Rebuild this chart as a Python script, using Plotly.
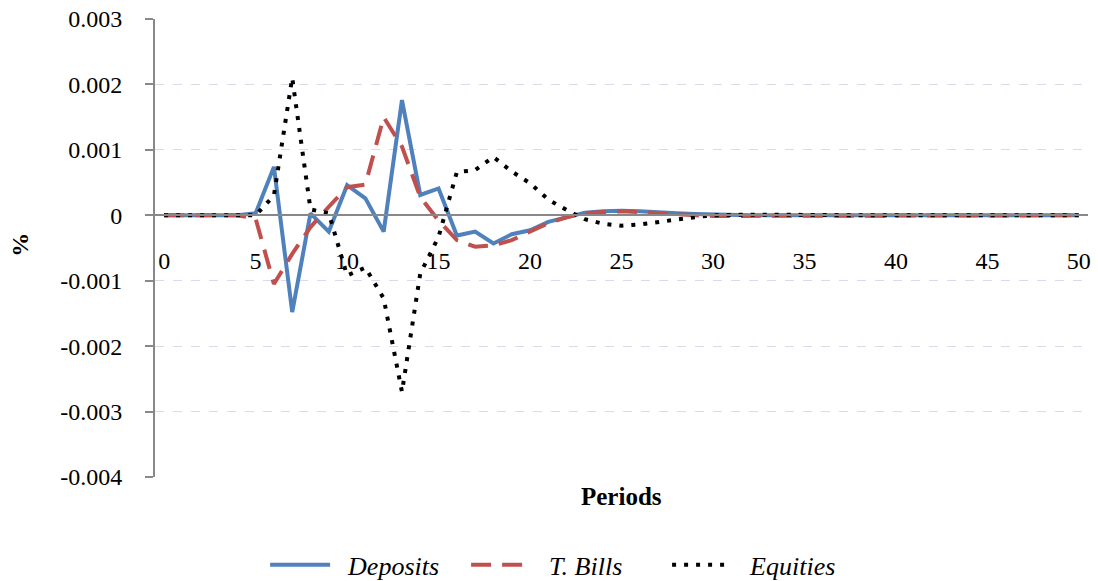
import plotly.graph_objects as go

# -----------------------------------------------------------------------------
# Données (réponses en %, périodes 0..50)
# -----------------------------------------------------------------------------
periods = list(range(51))

deposits = [
    0, 0, 0, 0, 0, 0.00003, 0.00074, -0.00148, 0.00003, -0.00025,
    0.00046, 0.00026, -0.00025, 0.00176, 0.00031, 0.00041, -0.00031, -0.00025, -0.00043, -0.00029,
    -0.00023, -0.00010, -0.00003, 0.00004, 0.00006, 0.00007, 0.00006, 0.00004, 0.00003, 0.00002,
    0.00001, 0.000005, 0, 0, 0, 0, 0, 0, 0, 0,
    0, 0, 0, 0, 0, 0, 0, 0, 0, 0, 0,
]

tbills = [
    0, 0, 0, 0, 0, -0.00005, -0.00105, -0.00059, -0.00018, 0.00013,
    0.00043, 0.00047, 0.00150, 0.00105, 0.00028, -0.00008, -0.00038, -0.00048, -0.00046, -0.00038,
    -0.00025, -0.00012, -0.00003, 0.00003, 0.00005, 0.00006, 0.00005, 0.00003, 0.00001, 0,
    -0.00001, -0.00001, -0.00001, -0.000005, 0, 0, 0, 0, 0, 0,
    0, 0, 0, 0, 0, 0, 0, 0, 0, 0, 0,
]

equities = [
    0, 0, 0, 0, 0, 0, 0.00030, 0.00210, 0.00009, 0.00003,
    -0.00092, -0.00080, -0.00127, -0.00270, -0.00089, -0.00033, 0.00066, 0.00069, 0.00089, 0.00067,
    0.00049, 0.00024, 0.00008, -0.00006, -0.00013, -0.00016, -0.00014, -0.00010, -0.00006, -0.00003,
    0, 0.00001, 0.00001, 0.00001, 0.000005, 0, 0, 0, 0, 0,
    0, 0, 0, 0, 0, 0, 0, 0, 0, 0, 0,
]

series_names = ["Deposits", "T. Bills", "Equities"]
y_ticks = [-0.004, -0.003, -0.002, -0.001, 0, 0.001, 0.002, 0.003]
y_labels = ["-0.004", "-0.003", "-0.002", "-0.001", "0", "0.001", "0.002", "0.003"]
x_ticks = list(range(0, 51, 5))

SERIF = "Liberation Serif, Times New Roman, serif"
PAD = "\u00a0\u00a0"  # petit espace entre le trait et le texte de la légende

fig = go.Figure()
fig.add_trace(go.Scatter(
    x=periods, y=deposits, name=PAD + series_names[0], mode="lines",
    line=dict(color="#4F81BD", width=4),
))
fig.add_trace(go.Scatter(
    x=periods, y=tbills, name=PAD + series_names[1], mode="lines",
    line=dict(color="#C0504D", width=4, dash="20px,11px"),
))
fig.add_trace(go.Scatter(
    x=periods, y=equities, name=PAD + series_names[2], mode="lines",
    line=dict(color="#000000", width=4, dash="4px,8px"),
))

fig.update_layout(
    width=1098,
    height=581,
    margin=dict(l=155, r=10, t=19, b=104, autoexpand=False),
    paper_bgcolor="white",
    plot_bgcolor="white",
    font=dict(family=SERIF, size=20, color="black"),
    showlegend=True,
    legend=dict(
        orientation="h",
        x=0.118, xanchor="left",
        y=-0.192, yanchor="middle",
        font=dict(family=SERIF, size=26, style="italic"),
        itemwidth=60,
        entrywidth=126,
        tracegroupgap=0,
    ),
    xaxis=dict(
        range=[-0.5, 50.5],
        anchor="free",
        position=4 / 7,
        tickvals=x_ticks,
        ticks="",
        ticklabelstandoff=24,
        ticklabeloverflow="allow",
        automargin=False,
        showgrid=False,
        zeroline=False,
        showline=True,
        linecolor="#888888",
        linewidth=2,
        tickfont=dict(size=24),
    ),
    yaxis=dict(
        range=[-0.004, 0.003],
        tickvals=y_ticks,
        ticktext=y_labels,
        ticks="outside",
        ticklen=8,
        tickcolor="#888888",
        tickwidth=1.5,
        ticklabelstandoff=18,
        ticklabeloverflow="allow",
        automargin=False,
        showline=True,
        linecolor="#888888",
        linewidth=2,
        showgrid=True,
        gridcolor="#D6DCEE",
        griddash="dash",
        gridwidth=1,
        zeroline=False,
        tickfont=dict(size=24),
    ),
    annotations=[
        dict(
            text="<b>%</b>", x=-0.1447, y=0.507, xref="paper", yref="paper",
            xanchor="center", yanchor="middle",
            textangle=-90, showarrow=False, font=dict(size=24),
        ),
        dict(
            text="<b>Periods</b>", x=0.5, y=-0.0415, xref="paper", yref="paper",
            xanchor="center", yanchor="middle",
            showarrow=False, font=dict(size=25),
        ),
    ],
)

# la page html met 8px de marge autour du graphique : on la retire
fig.write_html(
    "out.html",
    config={"displayModeBar": False},
    post_script="document.body.style.margin='0';",
)
